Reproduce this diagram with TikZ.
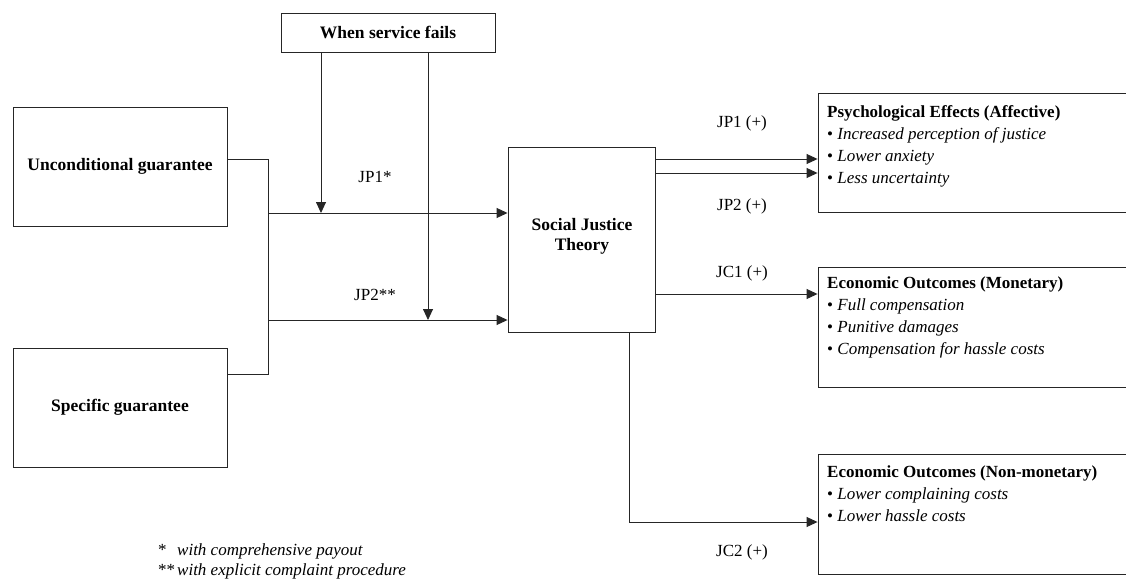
\documentclass[tikz,border=0pt]{standalone}
\usepackage{fontspec}
\setmainfont{Liberation Serif}
\usetikzlibrary{arrows.meta}
\begin{document}
\begin{tikzpicture}[x=1pt,y=-1pt,
  every node/.style={font=\fontsize{17}{20}\selectfont},
  box/.style={draw=black!85,line width=0.9pt,rectangle,inner sep=0pt,align=center},
  bold/.style={font=\fontsize{17.5}{20}\selectfont\bfseries},
  conn/.style={draw=black!85,line width=0.9pt},
  arr/.style={conn,-{Triangle[length=11pt,width=10pt]}},
  lbl/.style={inner sep=0pt},
  listtext/.style={anchor=north west,inner sep=0pt,align=left,font=\fontsize{17}{22}\selectfont}
]
\useasboundingbox[fill=white] (0,0) rectangle (1126,580);
% boxes
\node[box,bold,minimum width=214pt,minimum height=39pt] (W) at (388,32.5) {When service fails};
\node[box,bold,minimum width=214pt,minimum height=119pt] (U) at (120,166.5) {Unconditional guarantee};
\node[box,bold,minimum width=214pt,minimum height=119pt] (G) at (120,407.5) {Specific guarantee};
\node[box,minimum width=147pt,minimum height=185pt] (S) at (581.5,239.5) {};
\node[bold,lbl,align=center] (St) at (582,236) {Social Justice\\Theory};
\node[box,minimum width=310pt,minimum height=119pt] (P) at (973,152.5) {};
\node[box,minimum width=310pt,minimum height=120pt] (M) at (973,327) {};
\node[box,minimum width=310pt,minimum height=120pt] (N) at (973,514) {};
% box texts
\node[listtext] (Pt) at (827,105) {\textbf{Psychological Effects (Affective)}\\
  \textbullet\ \textit{Increased perception of justice}\\
  \textbullet\ \textit{Lower anxiety}\\
  \textbullet\ \textit{Less uncertainty}};
\node[listtext] (Mt) at (827,277) {\textbf{Economic Outcomes (Monetary)}\\
  \textbullet\ \textit{Full compensation}\\
  \textbullet\ \textit{Punitive damages}\\
  \textbullet\ \textit{Compensation for hassle costs}};
\node[listtext] (Nt) at (827,465) {\textbf{Economic Outcomes (Non-monetary)}\\
  \textbullet\ \textit{Lower complaining costs}\\
  \textbullet\ \textit{Lower hassle costs}};
% junction coordinates
\coordinate (b1) at (268,159);
\coordinate (b2) at (268,374);
\coordinate (j1) at (268,213);
\coordinate (j2) at (268,320);
\coordinate (m1) at (321,213);
\coordinate (m2) at (428,320);
\coordinate (c2) at (629,522);
% left bracket
\draw[conn] (U.east |- b1) -- (b1) -- (b2) -- (G.east |- b2);
\draw[arr] (j1) -- (S.west |- j1);
\draw[arr] (j2) -- (S.west |- j2);
\draw[arr] (W.south -| m1) -- (m1);
\draw[arr] (W.south -| m2) -- (m2);
% outputs
\draw[arr] (S.east |- 0,159) -- (P.west |- 0,159);
\draw[arr] (S.east |- 0,173) -- (P.west |- 0,173);
\draw[arr] (S.east |- 0,294) -- (M.west |- 0,294);
\draw[conn] (S.south -| c2) -- (c2);
\draw[arr] (c2) -- (N.west |- c2);
% labels
\node[lbl] (l1) at (375,177) {JP1*};
\node[lbl] (l2) at (375,295) {JP2**};
\node[lbl] (l3) at (742,123) {JP1 (+)};
\node[lbl] (l4) at (742,206) {JP2 (+)};
\node[lbl] (l5) at (742,273) {JC1 (+)};
\node[lbl] (l6) at (742,552) {JC2 (+)};
% footnotes
\node[anchor=west,inner sep=0pt,align=left] (fn) at (158,561) {%
  \begin{tabular}{@{}l@{\hspace{2pt}}l@{}}
  {*}  & \textit{with comprehensive payout}\\
  {**} & \textit{with explicit complaint procedure}
  \end{tabular}};
\end{tikzpicture}
\end{document}
